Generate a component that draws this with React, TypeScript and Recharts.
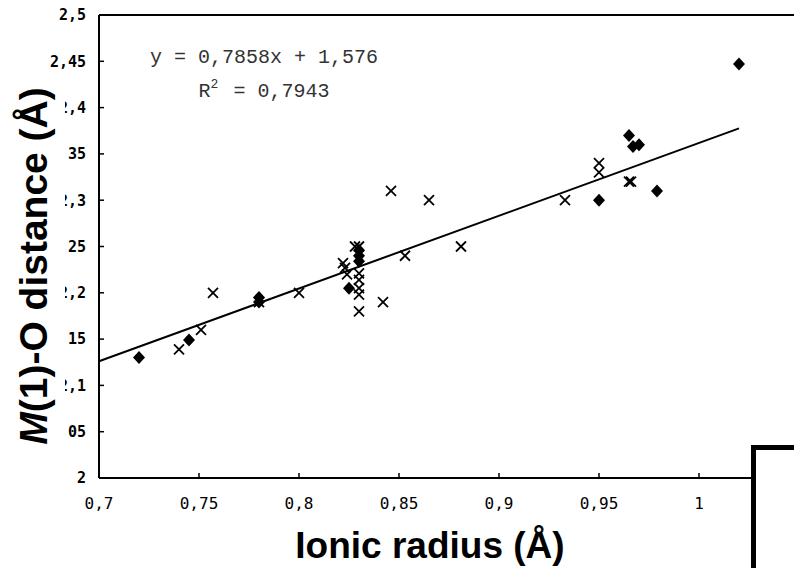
import React from "react";
import {
  ScatterChart,
  Scatter,
  XAxis,
  YAxis,
  ReferenceLine,
} from "recharts";

// ionic radius (Å) vs M(1)-O distance (Å)
const diamondX = [0.72, 0.745, 0.78, 0.78, 0.825, 0.83, 0.83, 0.83, 0.95, 0.965, 0.967, 0.97, 0.979, 1.02];
const diamondY = [2.13, 2.149, 2.195, 2.19, 2.205, 2.246, 2.24, 2.234, 2.3, 2.37, 2.358, 2.36, 2.31, 2.447];

const crossX = [
  0.74, 0.751, 0.757, 0.78, 0.8, 0.822, 0.823, 0.824, 0.828, 0.83, 0.83, 0.83, 0.83,
  0.83, 0.83, 0.842, 0.846, 0.853, 0.865, 0.881, 0.933, 0.95, 0.95, 0.965, 0.966,
];
const crossY = [
  2.139, 2.16, 2.2, 2.19, 2.2, 2.232, 2.227, 2.22, 2.25, 2.25, 2.221, 2.214, 2.205,
  2.198, 2.18, 2.19, 2.31, 2.24, 2.3, 2.25, 2.3, 2.34, 2.33, 2.32, 2.32,
];

const xTicks = [0.7, 0.75, 0.8, 0.85, 0.9, 0.95, 1];
const yTicks = [2, 2.05, 2.1, 2.15, 2.2, 2.25, 2.3, 2.35, 2.4, 2.45, 2.5];

const slope = 0.7858;
const intercept = 1.576;
const trendFrom = 0.7;
const trendTo = 1.02;

const diamonds = diamondX.map((x, i) => ({ x, y: diamondY[i] }));
const crosses = crossX.map((x, i) => ({ x, y: crossY[i] }));

const comma = (v: number) => String(v).replace(".", ",");

const Diamond = (p: any) => {
  const { cx, cy } = p;
  return <path d={`M${cx},${cy - 6.5}L${cx + 6},${cy}L${cx},${cy + 6.5}L${cx - 6},${cy}Z`} fill="#000" />;
};

const Cross = (p: any) => {
  const { cx, cy } = p;
  return (
    <g stroke="#000" strokeWidth={1.8}>
      <line x1={cx - 5} y1={cy - 5} x2={cx + 5} y2={cy + 5} />
      <line x1={cx - 5} y1={cy + 5} x2={cx + 5} y2={cy - 5} />
    </g>
  );
};

const mono = "'DejaVu Sans Mono', monospace";
const sans = "'Liberation Sans', Arial, sans-serif";

export default function App() {
  return (
    <div style={{ position: "absolute", left: 0, top: 0, width: 794, height: 568, background: "#fff", overflow: "hidden" }}>
      <ScatterChart width={794} height={568} margin={{ top: 0, right: 0, left: 0, bottom: 0 }}>
        <XAxis
          xAxisId="top"
          orientation="top"
          type="number"
          dataKey="x"
          domain={[0.7, 1.0475]}
          height={15}
          tick={false}
          tickLine={false}
          axisLine={{ stroke: "#000", strokeWidth: 2 }}
        />
        <XAxis
          type="number"
          dataKey="x"
          domain={[0.7, 1.0475]}
          allowDataOverflow
          ticks={xTicks}
          tickFormatter={comma}
          height={90}
          tickSize={-5}
          tickMargin={25}
          tick={{ fontSize: 16, fill: "#000", fontFamily: mono }}
          tickLine={{ stroke: "#000", strokeWidth: 1.5 }}
          axisLine={{ stroke: "#000", strokeWidth: 2 }}
        />
        <YAxis
          type="number"
          dataKey="y"
          domain={[2, 2.5]}
          ticks={yTicks}
          tickFormatter={comma}
          width={99}
          tickSize={-5}
          tickMargin={18}
          tick={{ fontSize: 15, fill: "#000", fontFamily: mono, fontWeight: "bold" }}
          tickLine={{ stroke: "#000", strokeWidth: 1.5 }}
          axisLine={{ stroke: "#000", strokeWidth: 2 }}
        />
        <ReferenceLine
          segment={[
            { x: trendFrom, y: slope * trendFrom + intercept },
            { x: trendTo, y: slope * trendTo + intercept },
          ]}
          stroke="#000"
          strokeWidth={2}
          ifOverflow="visible"
        />
        <Scatter data={crosses} shape={Cross} isAnimationActive={false} />
        <Scatter data={diamonds} shape={Diamond} isAnimationActive={false} />
      </ScatterChart>

      <svg width={794} height={568} style={{ position: "absolute", left: 0, top: 0, pointerEvents: "none" }}>
        <g fontFamily="'Liberation Mono', 'Courier New', monospace" fontSize={20} fill="#333" textAnchor="middle">
          <text x={264} y={63}>y = 0,7858x + 1,576</text>
          <text x={264} y={97}>
            R<tspan fontSize={13} dy={-9}>2</tspan>
            <tspan dy={9} dx={3}> = 0,7943</tspan>
          </text>
        </g>
        <rect x={0} y={86} width={65} height={372} fill="#fff" />
        <text
          transform="translate(47,266) rotate(-90)"
          textAnchor="middle"
          fontFamily={sans}
          fontWeight="bold"
          fontSize={39}
          fill="#000"
        >
          <tspan fontStyle="italic">M</tspan>(1)-O distance (Å)
        </text>
        <text x={430} y={558} textAnchor="middle" fontFamily={sans} fontWeight="bold" fontSize={37} fill="#000">
          Ionic radius (Å)
        </text>
      </svg>

      <div
        style={{
          position: "absolute",
          left: 751,
          top: 445,
          width: 80,
          height: 160,
          border: "5px solid #000",
          background: "#fff",
        }}
      />
    </div>
  );
}
